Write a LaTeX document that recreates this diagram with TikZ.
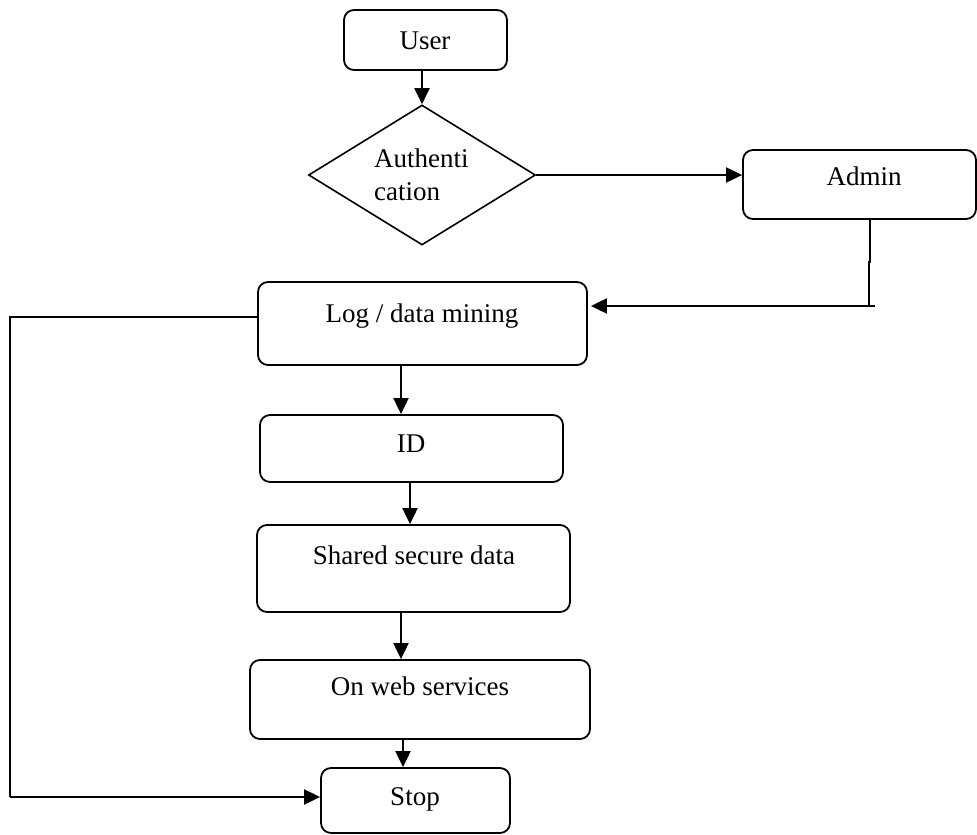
\documentclass[tikz,border=0pt]{standalone}
\usepackage{fontspec}
\setmainfont{Liberation Serif}
\usetikzlibrary{shapes.geometric,arrows.meta}

\begin{document}
\begin{tikzpicture}[x=1pt,y=-1pt,
  box/.style={draw,line width=1.8pt,rounded corners=10pt,inner sep=0pt},
  dia/.style={draw,line width=1.6pt,diamond,inner sep=0pt},
  txt/.style={font=\fontsize{27}{33}\selectfont,inner sep=0pt},
  ln/.style={line width=2pt},
  arr/.style={line width=2pt,-{Triangle[length=16pt,width=15pt]}}]

\useasboundingbox (0,0) rectangle (977,835);

\node[box,minimum width=163pt,minimum height=60pt] (user) at (425.5,40) {};
\node[dia,minimum width=227pt,minimum height=140pt] (auth) at (422,175) {};
\node[box,minimum width=233pt,minimum height=69pt] (admin) at (859.5,184.5) {};
\node[box,minimum width=329pt,minimum height=83pt] (log) at (422.5,323.5) {};
\node[box,minimum width=303pt,minimum height=67pt] (id) at (411.5,448.5) {};
\node[box,minimum width=313pt,minimum height=87pt] (shared) at (413.5,568.5) {};
\node[box,minimum width=340pt,minimum height=79pt] (web) at (420,699.5) {};
\node[box,minimum width=189pt,minimum height=65pt] (stop) at (415.5,800.5) {};

\node[txt] (usertxt) at (425,41) {User};
\node[txt,align=left,anchor=west] (authtxt) at (374,175) {Authenti\\cation};
\node[txt] (admintxt) at (864,176) {Admin};
\node[txt] (logtxt) at (422,316) {Log / data mining};
\node[txt] (idtxt) at (411,444) {ID};
\node[txt] (sharedtxt) at (414,555) {Shared secure data};
\node[txt] (webtxt) at (420,686) {On web services};
\node[txt] (stoptxt) at (415,799) {Stop};

\coordinate (a1) at (870,262);
\coordinate (a2) at (869,262);
\coordinate (a3) at (869,306);
\coordinate (a4) at (875,306);
\coordinate (l1) at (10,317);
\coordinate (l2) at (10,797);

\draw[arr] (user.south -| auth.north) -- (auth.north);
\draw[arr] (auth.east) -- (auth.east -| admin.west);
\draw[ln] ([xshift=10.5pt]admin.south) -- (a1) -- (a2) -- (a3);
\draw[arr] (a4) -- ([xshift=3pt,yshift=17.5pt]log.east);
\draw[arr] ([xshift=-21.5pt]log.south) -- ([xshift=-10.5pt]id.north);
\draw[arr] ([xshift=-1.5pt]id.south) -- ([xshift=-3.5pt]shared.north);
\draw[arr] ([xshift=-12.5pt]shared.south) -- ([xshift=-19pt]web.north);
\draw[arr] ([xshift=-17pt]web.south) -- ([xshift=-12.5pt]stop.north);
\draw[ln] ([yshift=6.5pt]log.west) -- (l1) -- (l2);
\draw[arr] (l2) -- (l2 -| stop.west);

\end{tikzpicture}
\end{document}
